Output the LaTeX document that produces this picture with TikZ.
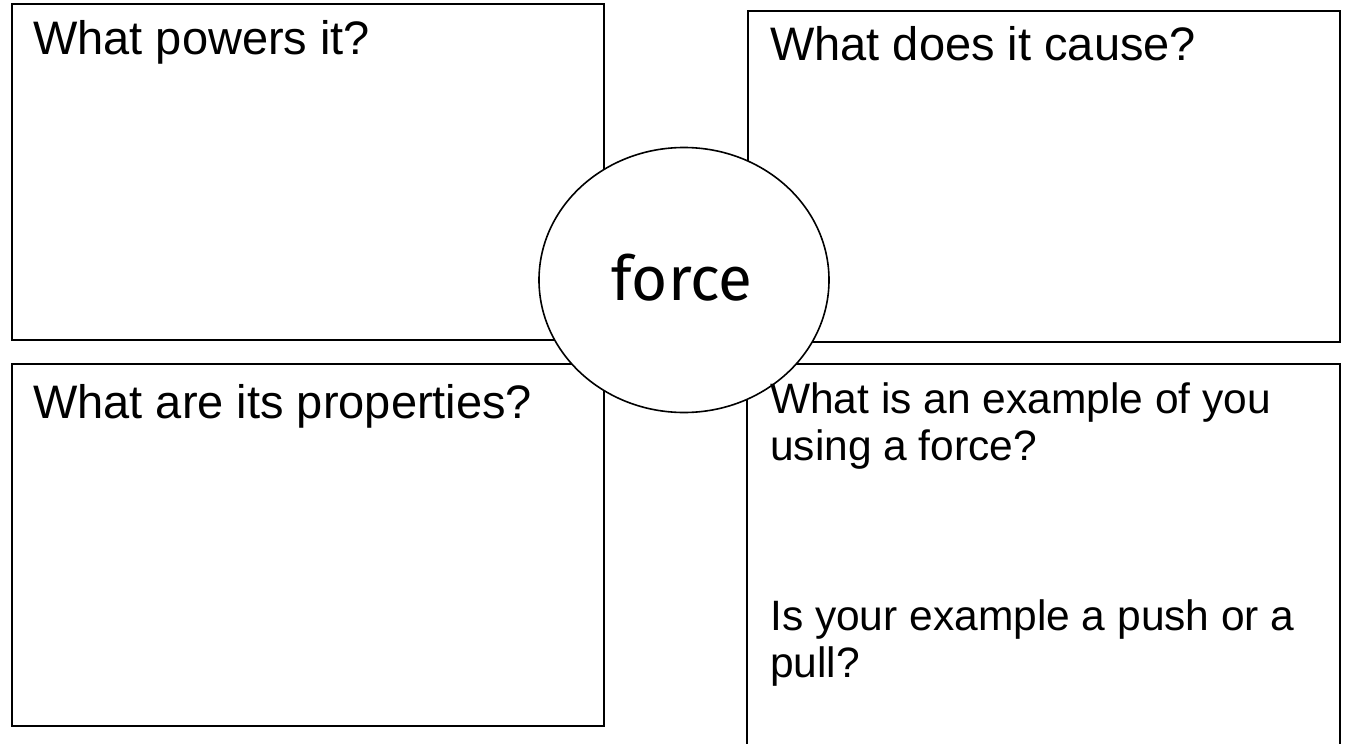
\documentclass[tikz,border=0pt]{standalone}
\usepackage{fontspec}
\setmainfont{Liberation Sans}
\newfontfamily\forcefont{Fira Sans}
\usetikzlibrary{shapes.geometric}
\tikzset{
  box/.style={draw=black, line width=1.8pt, inner sep=0pt, anchor=north west},
  qtext/.style={anchor=base west, inner sep=0pt, font=\fontsize{47}{47}\selectfont, align=left},
  qsmall/.style={anchor=base west, inner sep=0pt, font=\fontsize{42.5}{47}\selectfont, align=left},
  hub/.style={ellipse, draw=black, line width=1.6pt, fill=white, inner sep=0pt, minimum width=290pt, minimum height=265pt}
}
\begin{document}
\begin{tikzpicture}[x=1pt,y=-1pt]
\useasboundingbox (0,0) rectangle (1345,744);
\clip (0,0) rectangle (1345,744);
\fill[white] (0,0) rectangle (1345,744);
% boxes
\node[box, minimum width=592pt, minimum height=336pt] (tl) at (11,3) {};
\node[box, minimum width=592pt, minimum height=331pt] (tr) at (747,10) {};
\node[box, minimum width=592pt, minimum height=362pt] (bl) at (11,363) {};
\node[box, minimum width=593pt, minimum height=400pt] (br) at (746,363) {};
% centre
\node[hub] (hub) at (684,280) {};
\node[anchor=base, inner sep=0pt, font=\forcefont\fontsize{62}{62}\selectfont] (force) at (682,300) {force};
% texts
\node[qtext] (q1) at (33,54) {What powers it?};
\node[qtext] (q2) at (770,60) {What does it cause?};
\node[qtext] (q3) at (33,418) {What are its properties?};
\node[qsmall] (q4) at (770,460) {What is an example of you\\using a force?};
\node[qsmall] (q5) at (770,677) {Is your example a push or a\\pull?};
\end{tikzpicture}
\end{document}
